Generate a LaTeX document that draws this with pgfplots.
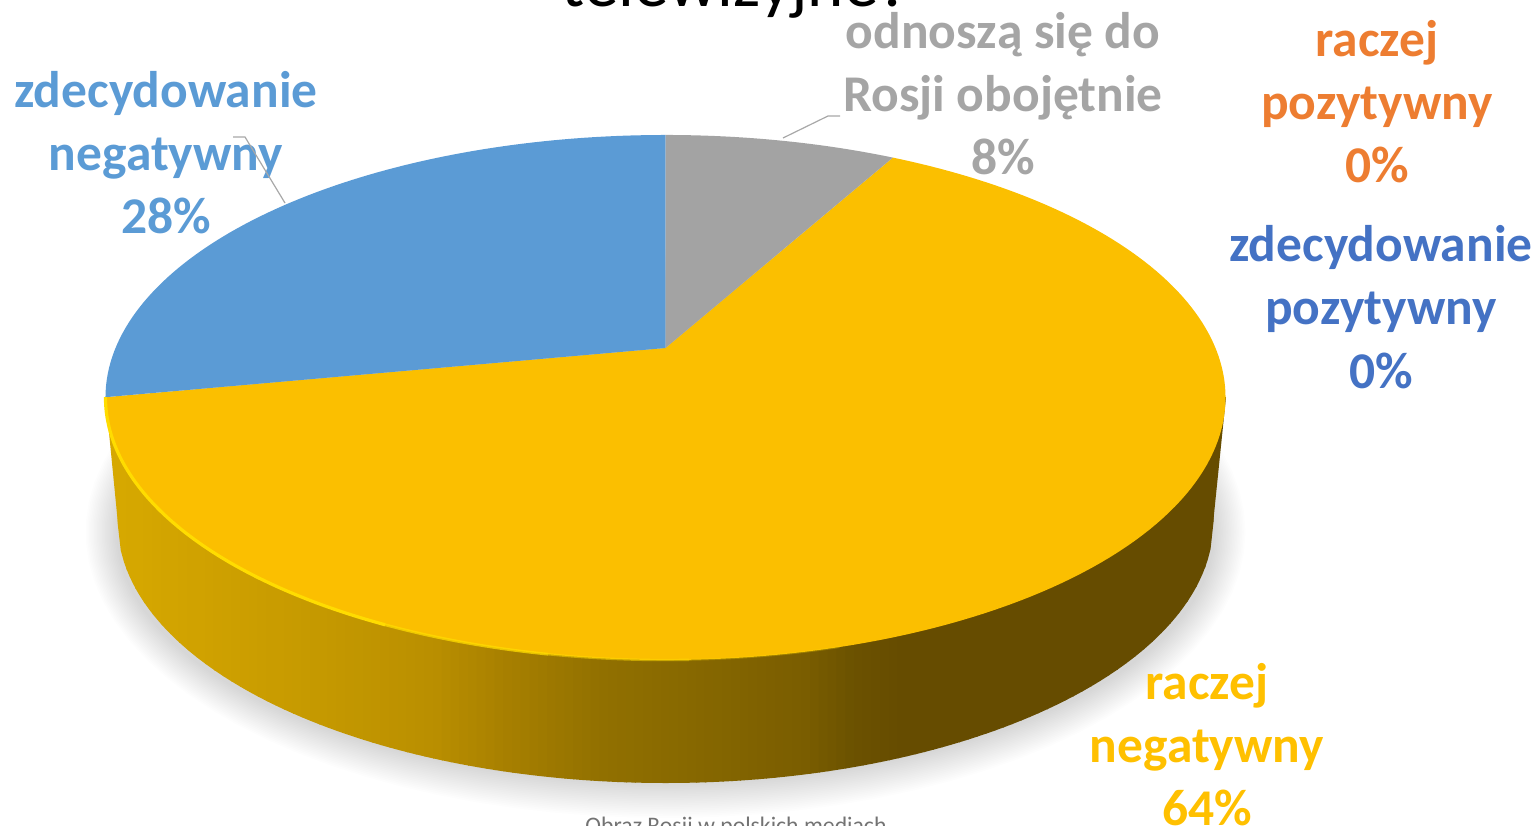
\documentclass[border=0pt]{standalone}
\usepackage{fontspec}
\setmainfont{Carlito}
\usepackage{pgfplots}
\pgfplotsset{compat=1.18}

% Survey shares in percent, clockwise from twelve o'clock
\def\shareObojetnie{8}
\def\shareNegatywny{64}
\def\shareZdecNeg{28}
\def\shareRaczejPoz{0}
\def\shareZdecPoz{0}

\definecolor{cGray}{HTML}{A3A3A3}
\definecolor{cBlue}{HTML}{5B9BD5}
\definecolor{cGold}{HTML}{FBBF00}
\definecolor{cOrange}{HTML}{ED7D31}
\definecolor{cNavy}{HTML}{4472C4}
\definecolor{cLabelGold}{HTML}{FFC000}
\definecolor{cLabelGray}{HTML}{A5A5A5}
\definecolor{cLeader}{HTML}{A8A8A8}
\definecolor{cGlint}{HTML}{FFDC00}
\definecolor{cRimLeft}{HTML}{D6A800}
\definecolor{cRimRight}{HTML}{664C00}

% Rim of the disc, lit from the left; positions run along its width
\pgfplotsset{colormap={rim}{
  rgb255(0)=(214,168,0)
  rgb255(68)=(208,162,0)
  rgb255(191)=(196,152,0)
  rgb255(283)=(186,143,0)
  rgb255(349)=(168,128,0)
  rgb255(440)=(145,112,0)
  rgb255(531)=(134,103,0)
  rgb255(623)=(122,93,0)
  rgb255(668)=(107,82,0)
  rgb255(714)=(102,76,0)
  rgb255(1000)=(102,76,0)}}

\newcommand{\lbl}[4]{\node[anchor=base,inner sep=0pt,text=#3,font=\fontsize{51.5pt}{63pt}\selectfont\bfseries] at (axis cs:#1,#2) {#4};}

\begin{document}
\begin{tikzpicture}
\useasboundingbox (0,0) rectangle (1537pt,826pt);
\clip (0,0) rectangle (1537pt,826pt);
\begin{axis}[
  at={(0,0)}, anchor=south west,
  scale only axis, width=1537pt, height=826pt,
  xmin=0, xmax=1537, ymin=0, ymax=826, y dir=reverse,
  hide axis, clip=false,
  declare function={
    % point on the top face for a clockwise angle from twelve o'clock
    topx(\a)=665.5+550*sin(\a)/(1+0.1886*cos(\a));
    topy(\a)=348-253.2*cos(\a)/(1+0.1886*cos(\a));
    % lower edge of the rim at a horizontal position
    rimy(\x)=522+261*sqrt(max(0,1-((\x-665.5)/548)^2));
  },
]
% soft shadow under the disc
\pgfplotsinvokeforeach{0,...,19}{
  \addplot[draw=none, fill=black, fill opacity=0.0065, domain=0:360, samples=90, forget plot]
    ({665.5+(580-1.6*#1)*cos(x)},{532+(286-1.8*#1)*sin(x)}) -- cycle;
}
% rim, built from narrow vertical strips so the light can fall off across it
\addplot[draw=none, fill=cRimLeft, forget plot] coordinates {(105.5,397) (117.8,522) (118.5,397)} -- cycle;
\addplot[draw=none, fill=cRimRight, forget plot] coordinates {(1226,397) (1213.2,522) (1212.5,397)} -- cycle;
\pgfplotsinvokeforeach{0,8,...,992}{
  \addplot[draw=none, color of colormap={#1 of rim}, fill=., domain={117.5+1.096*#1}:{min(1213.5,118.5+1.096*(#1+8))}, samples=4, forget plot]
    ({x},{rimy(x)}) -- (axis cs:{min(1213.5,118.5+1.096*(#1+8))},400) -- (axis cs:{117.5+1.096*#1},400) -- cycle;
}
% top face
\addplot[draw=none, fill=cGold, domain=\shareObojetnie*3.6:(\shareObojetnie+\shareNegatywny)*3.6, samples=180, forget plot]
  ({topx(x)},{topy(x)}) -- (axis cs:665.5,348) -- cycle;
\addplot[draw=none, fill=cBlue, domain=(\shareObojetnie+\shareNegatywny)*3.6:(\shareObojetnie+\shareNegatywny+\shareZdecNeg)*3.6, samples=80, forget plot]
  ({topx(x)},{topy(x)}) -- (axis cs:665.5,348) -- cycle;
\addplot[draw=none, fill=cGray, domain=0:\shareObojetnie*3.6, samples=30, forget plot]
  ({topx(x)},{topy(x)}) -- (axis cs:665.5,348) -- cycle;
% highlight along the front edge of the top face, fading towards the right
\addplot[draw=cGlint, line width=3.2pt, domain=205:259.2, samples=70, forget plot] ({topx(x)},{topy(x)});
\addplot[draw=cGlint, line width=2.8pt, opacity=0.75, domain=190:205, samples=20, forget plot] ({topx(x)},{topy(x)});
\addplot[draw=cGlint, line width=2.4pt, opacity=0.5, domain=178:190, samples=20, forget plot] ({topx(x)},{topy(x)});
\addplot[draw=cGlint, line width=2pt, opacity=0.25, domain=165:178, samples=20, forget plot] ({topx(x)},{topy(x)});
% leader lines
\addplot[draw=cLeader, line width=1.2pt, forget plot] coordinates {(783,138) (828,116) (840,116)};
% labels
\lbl{166}{108}{cBlue}{zdecydowanie}
\lbl{166}{171}{cBlue}{negatywny}
\lbl{166}{234}{cBlue}{\shareZdecNeg\%}
\addplot[draw=cLeader, line width=1.2pt, forget plot] coordinates {(285,203) (245,137) (233,137)};
\lbl{1003}{49}{cLabelGray}{odnoszą się do}
\lbl{1003}{112}{cLabelGray}{Rosji obojętnie}
\lbl{1003}{175}{cLabelGray}{\shareObojetnie\%}
\lbl{1377}{57}{cOrange}{raczej}
\lbl{1377}{120}{cOrange}{pozytywny}
\lbl{1377}{183}{cOrange}{\shareRaczejPoz\%}
\lbl{1381}{262}{cNavy}{zdecydowanie}
\lbl{1381}{325}{cNavy}{pozytywny}
\lbl{1381}{388}{cNavy}{\shareZdecPoz\%}
\lbl{1207}{699}{cLabelGold}{raczej}
\lbl{1207}{762}{cLabelGold}{negatywny}
\lbl{1207}{825}{cLabelGold}{\shareNegatywny\%}
% title and source line, both running past the page edge
\node[anchor=base,inner sep=0pt,text=black,font=\fontsize{69pt}{80pt}\selectfont] at (axis cs:736,7) {telewizyjne?};
\node[anchor=base,inner sep=0pt,text=black!55,font=\fontsize{23.7pt}{28pt}\selectfont] at (axis cs:736,833) {Obraz Rosji w polskich mediach};
\end{axis}
\end{tikzpicture}
\end{document}
